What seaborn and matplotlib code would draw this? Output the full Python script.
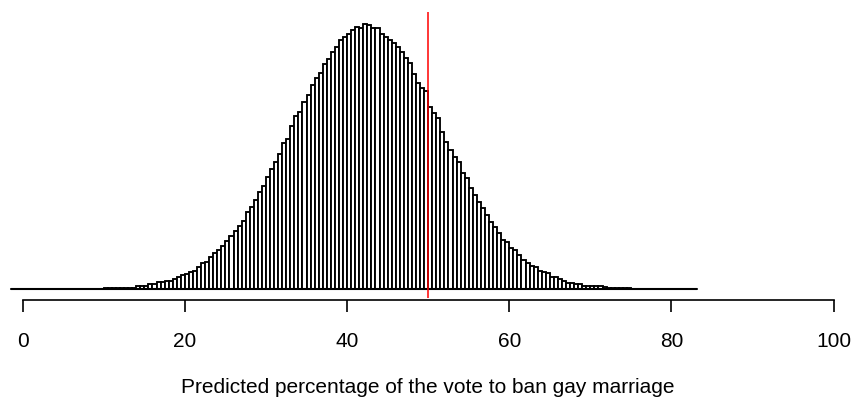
import numpy as np
import pandas as pd
import matplotlib
matplotlib.use("Agg")
import matplotlib.pyplot as plt
import seaborn as sns

# bin heights (0.5-wide bins from 10 to 75)
bin_lo, bin_hi, bin_w = 10.0, 75.0, 0.5
heights = [
    1, 1, 1, 1, 1, 1, 1, 1,
    3.7, 3.7, 3.7, 5.3, 5.3, 7.3, 7.3, 8.3, 8.3, 10.7, 12.3, 14.0,
    15.7, 17.3, 18.7, 22, 26, 27.3, 32.7, 36, 39.7, 43.3, 48.3, 53.3,
    58.7, 63.7, 68.7, 77.3, 82.3, 89.3, 97.7, 103.3, 112, 120.3, 127, 135.3,
    146.7, 150, 163.3, 173.7, 177.3, 187, 194.3, 204.3, 211.7, 216.7,
    225, 230.7, 237, 242, 249.3, 252.3, 255.7, 259.7, 262.7, 261.7,
    265, 264.3, 261, 261, 255, 252.7, 249.3, 246.7, 242.7, 237.7, 231, 226,
    215, 206, 201.7, 198, 182.7, 176, 171, 157.7, 147.7, 139.3, 132.7, 127.7,
    116, 111, 101.7, 94.3, 87.7, 81, 74.3, 67, 62, 56.7, 49.3, 47.7,
    41, 39.3, 34.3, 29.3, 26, 23.7, 22, 18.7, 17,
    16, 12.7, 12.7, 10.3, 8.3, 6.7, 6.7, 5, 5, 3.3, 3.3, 3.3, 3.3, 3.3,
    2, 1, 1, 1, 1, 1, 1,
]

threshold = 50
baseline_span = [-1.5, 83.1]
x_ticks = [0, 20, 40, 60, 80, 100]
x_label = "Predicted percentage of the vote to ban gay marriage"

df = pd.DataFrame({
    "pct": bin_lo + bin_w * (np.arange(len(heights)) + 0.5),
    "h": heights,
})

sns.set_style("white")
plt.rcParams["font.family"] = ["Liberation Sans", "DejaVu Sans"]
plt.rcParams["text.color"] = "black"
plt.rcParams["axes.labelcolor"] = "black"
plt.rcParams["xtick.color"] = "black"

fig = plt.figure(figsize=(8.51, 4.0), dpi=100)
ax = fig.add_axes([6.48 / 851, (400 - 298) / 400, (849.9 - 6.48) / 851, 286 / 400])

sns.histplot(data=df, x="pct", weights="h", binwidth=bin_w, binrange=(bin_lo, bin_hi),
             color="white", edgecolor="black", linewidth=1.35, alpha=1, ax=ax)

ax.plot(baseline_span, [0, 0], color="black", lw=1.5)
ax.axvline(threshold, color="red", lw=1.1)

ax.set_xlim(-2, 102)
ax.set_ylim(-8.7, 277.3)

for s in ["top", "right", "left"]:
    ax.spines[s].set_visible(False)
ax.spines["bottom"].set_bounds(0, 100)
ax.spines["bottom"].set_position(("outward", 1.44))
ax.spines["bottom"].set_linewidth(1.2)
ax.spines["bottom"].set_color("black")

ax.set_yticks([])
ax.set_ylabel("")
ax.set_xticks(x_ticks)
ax.set_xticklabels([str(t) for t in x_ticks])
ax.tick_params(axis="x", direction="out", length=8.4, width=1.2, color="black",
               labelsize=15, pad=14.5, bottom=True, labelcolor="black")
ax.set_xlabel(x_label, fontsize=15, labelpad=19.5, color="black")

fig.savefig("out.png", dpi=100)
